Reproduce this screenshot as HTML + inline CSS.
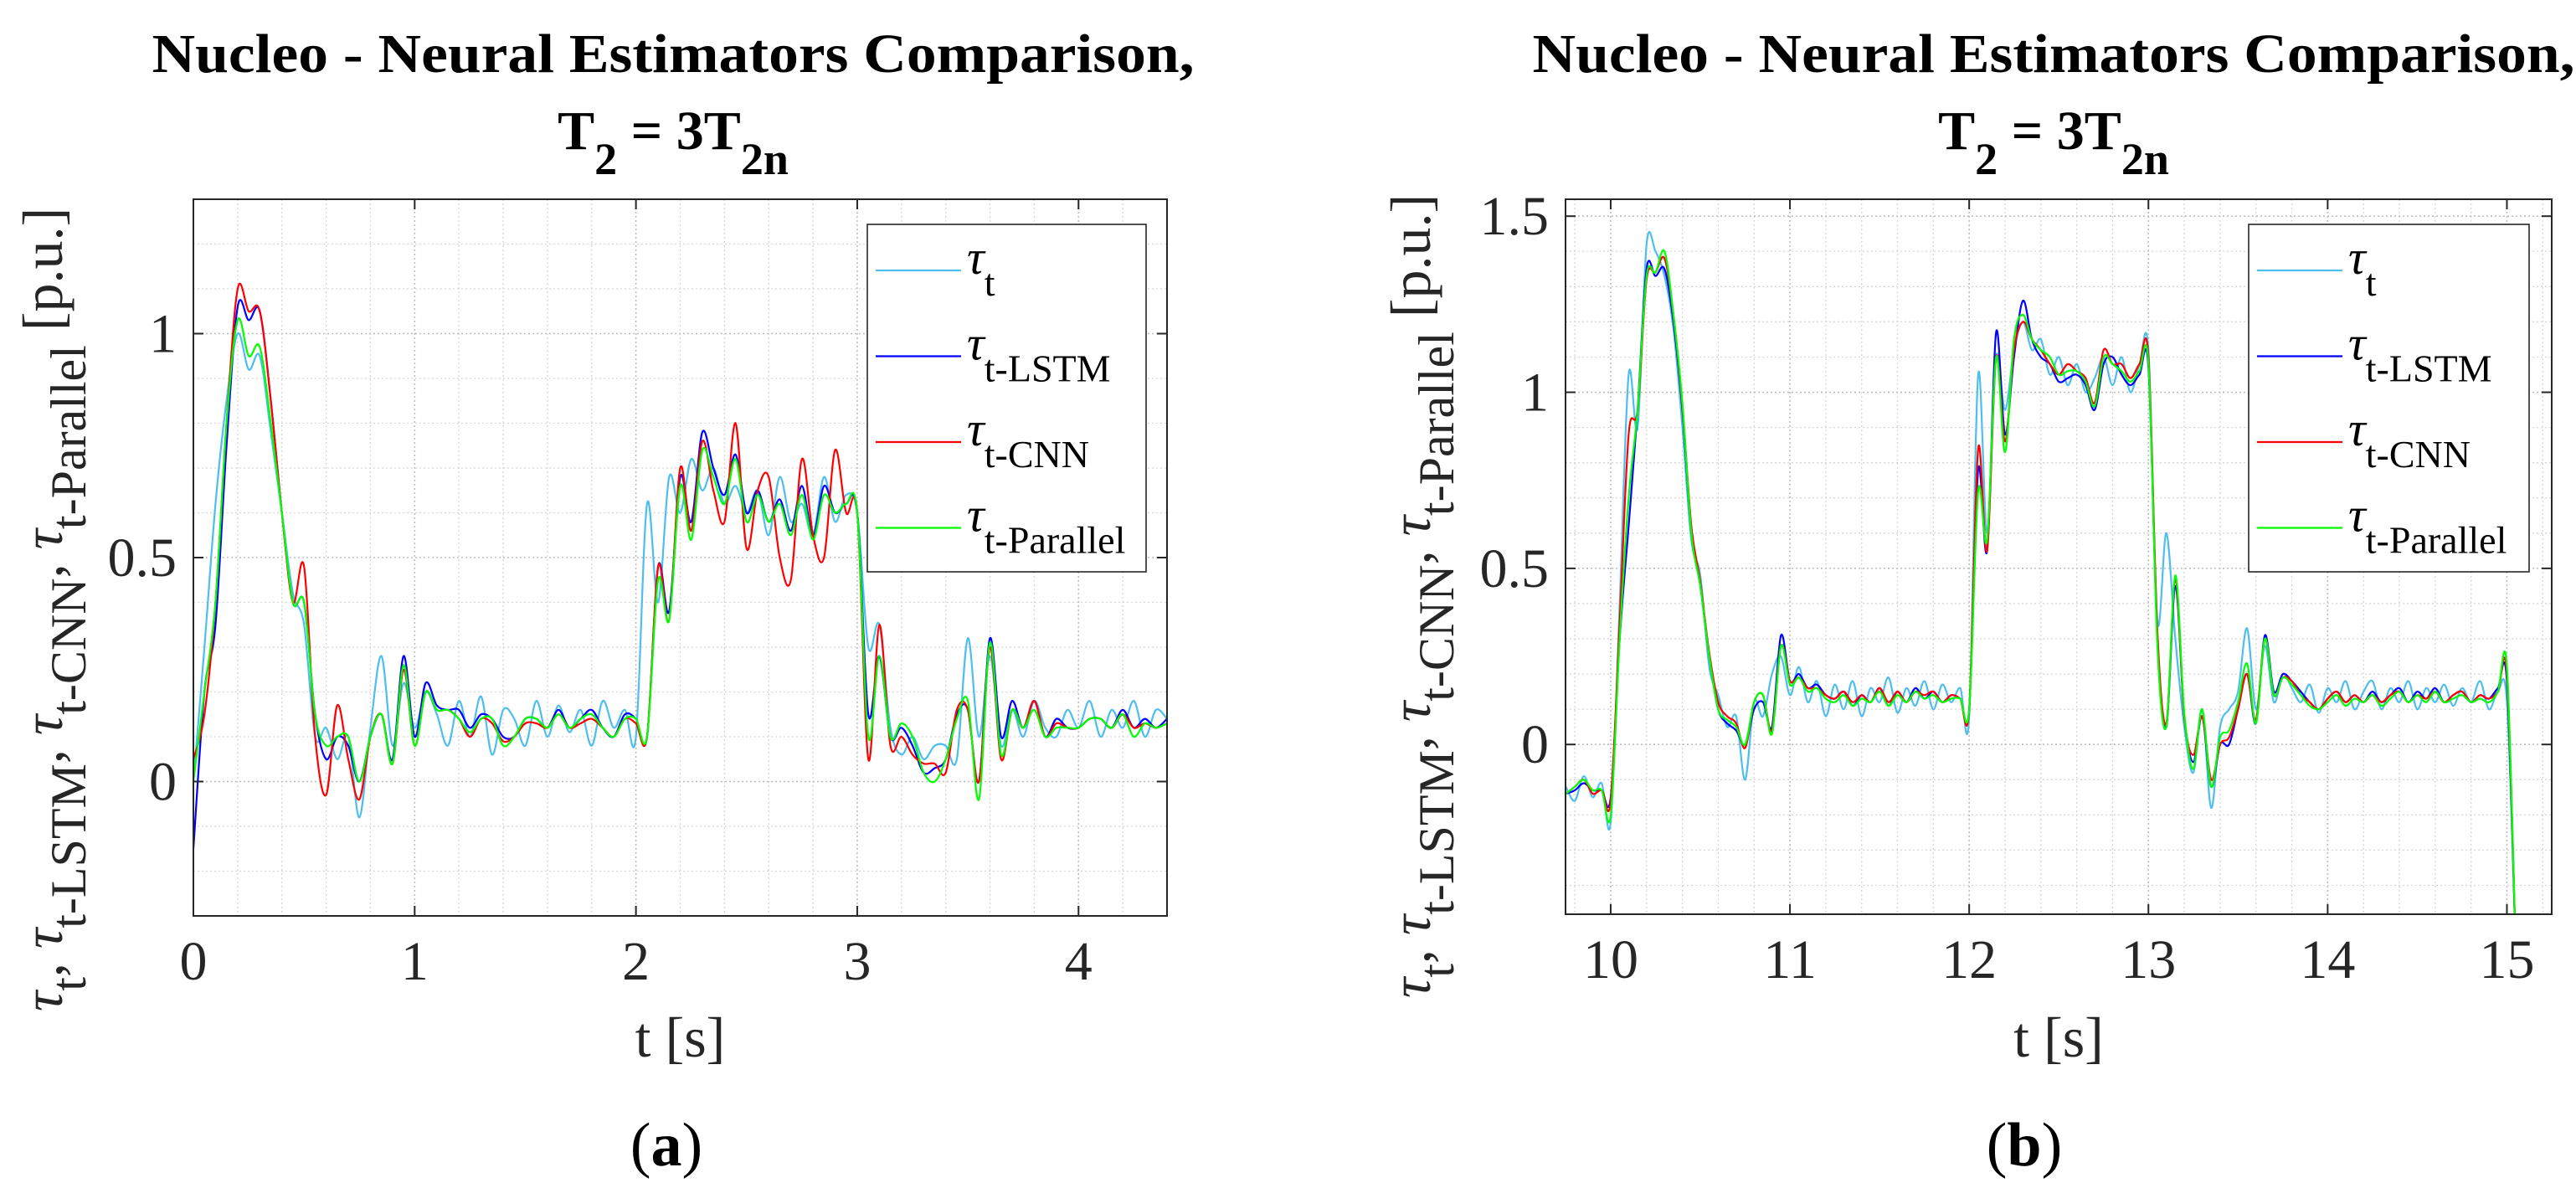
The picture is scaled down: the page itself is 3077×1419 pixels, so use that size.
<!DOCTYPE html>
<html><head><meta charset="utf-8"><style>
html,body{margin:0;padding:0;background:#fff;}
svg{display:block;font-family:"Liberation Serif",serif;}
</style></head><body>
<svg id="root" width="3077" height="1419" viewBox="0 0 3077 1419" xmlns="http://www.w3.org/2000/svg"></svg>
<script>
// ---------- Panel (a) data: t = 0 .. 4.4 step 0.05 ----------
const tStartA = 0, tStepA = 0.05;
const measA = [0.0,0.3,0.62,0.85,1.0,0.92,0.95,0.78,0.6,0.42,
0.35,0.1,0.12,0.05,0.1,-0.08,0.12,0.28,0.08,0.22,
0.12,0.2,0.15,0.08,0.18,0.1,0.19,0.06,0.16,0.14,
0.08,0.18,0.1,0.17,0.11,0.16,0.08,0.18,0.12,0.16,
0.1,0.62,0.4,0.68,0.6,0.72,0.65,0.7,0.62,0.66,
0.6,0.65,0.55,0.68,0.58,0.62,0.55,0.68,0.58,0.64,
0.6,0.3,0.35,0.12,0.06,0.1,0.05,0.08,0.08,0.05,
0.32,0.1,0.28,0.08,0.16,0.1,0.18,0.12,0.1,0.16,
0.12,0.18,0.1,0.16,0.12,0.18,0.1,0.16,0.14];
const lstmA = [-0.15,0.2,0.35,0.75,1.06,1.03,1.05,0.85,0.6,0.4,
0.4,0.15,0.05,0.1,0.08,0.0,0.1,0.15,0.05,0.28,
0.1,0.22,0.17,0.16,0.16,0.12,0.15,0.14,0.1,0.1,
0.14,0.14,0.12,0.16,0.12,0.14,0.16,0.12,0.1,0.15,
0.14,0.1,0.48,0.38,0.68,0.58,0.78,0.7,0.64,0.73,
0.6,0.65,0.58,0.63,0.56,0.66,0.55,0.66,0.6,0.62,
0.6,0.15,0.28,0.1,0.12,0.08,0.02,0.03,0.05,0.15,
0.16,0.0,0.32,0.1,0.18,0.12,0.18,0.1,0.14,0.12,
0.12,0.14,0.14,0.12,0.16,0.12,0.14,0.12,0.14];
const cnnA = [0.05,0.15,0.4,0.8,1.1,1.05,1.05,0.85,0.6,0.4,
0.48,0.1,-0.03,0.17,0.05,-0.04,0.1,0.15,0.04,0.25,
0.08,0.2,0.16,0.16,0.14,0.1,0.14,0.13,0.09,0.1,
0.13,0.13,0.12,0.15,0.12,0.13,0.14,0.12,0.1,0.14,
0.13,0.1,0.48,0.36,0.7,0.56,0.76,0.65,0.58,0.8,
0.52,0.65,0.68,0.5,0.45,0.72,0.55,0.5,0.74,0.6,
0.6,0.05,0.35,0.08,0.1,0.06,0.04,0.04,0.02,0.16,
0.16,0.0,0.3,0.05,0.16,0.12,0.18,0.1,0.13,0.12,
0.12,0.14,0.14,0.12,0.15,0.12,0.13,0.12,0.13];
const parA = [0.0,0.2,0.4,0.8,1.03,0.95,0.97,0.8,0.6,0.4,
0.4,0.15,0.08,0.1,0.1,0.0,0.1,0.15,0.04,0.26,
0.08,0.2,0.16,0.16,0.14,0.11,0.14,0.14,0.08,0.1,
0.14,0.14,0.12,0.15,0.12,0.14,0.15,0.12,0.1,0.14,
0.14,0.1,0.45,0.36,0.66,0.54,0.74,0.68,0.62,0.72,
0.58,0.64,0.58,0.62,0.55,0.64,0.54,0.64,0.6,0.62,
0.6,0.1,0.28,0.1,0.13,0.1,0.02,0.0,0.05,0.14,
0.18,-0.04,0.31,0.06,0.16,0.12,0.16,0.1,0.12,0.12,
0.12,0.14,0.14,0.12,0.15,0.1,0.13,0.12,0.13];
const xTicksA = [0,1,2,3,4];
const yTicksA = [0,0.5,1];
const yTickLabelsA = ["0","0.5","1"];

// ---------- Panel (b) data: t = 9.75 .. 15.05 step 0.05 ----------
const tStartB = 9.75, tStepB = 0.05;
const lstmB = [-0.14,-0.13,-0.11,-0.13,-0.13,-0.15,0.3,0.62,0.95,1.35,
1.33,1.35,1.2,0.95,0.6,0.45,0.25,0.1,0.06,0.04,
0.0,0.1,0.12,0.05,0.31,0.18,0.2,0.16,0.17,0.14,
0.13,0.15,0.11,0.14,0.12,0.16,0.11,0.15,0.12,0.16,
0.13,0.15,0.12,0.14,0.13,0.1,0.78,0.55,1.17,0.88,
1.1,1.26,1.15,1.1,1.08,1.03,1.04,1.05,1.02,0.95,
1.08,1.1,1.05,1.02,1.05,1.07,0.3,0.05,0.45,0.08,
-0.05,0.08,-0.12,0.0,0.0,0.1,0.2,0.06,0.31,0.15,
0.2,0.18,0.15,0.12,0.1,0.13,0.15,0.12,0.14,0.12,
0.15,0.12,0.14,0.16,0.12,0.15,0.13,0.16,0.12,0.14,
0.15,0.12,0.14,0.13,0.16,0.18,-0.6];
const cnnB = [-0.14,-0.12,-0.1,-0.14,-0.13,-0.16,0.35,0.88,0.95,1.32,
1.34,1.38,1.22,0.96,0.62,0.46,0.26,0.12,0.08,0.06,
-0.01,0.12,0.14,0.04,0.28,0.18,0.19,0.16,0.16,0.14,
0.13,0.15,0.12,0.14,0.12,0.16,0.12,0.15,0.12,0.15,
0.14,0.15,0.12,0.14,0.13,0.1,0.84,0.55,1.1,0.86,
1.12,1.2,1.15,1.12,1.08,1.05,1.08,1.06,1.04,0.97,
1.12,1.08,1.08,1.04,1.08,1.1,0.32,0.06,0.47,0.08,
-0.03,0.08,-0.1,0.0,0.02,0.1,0.2,0.07,0.3,0.14,
0.19,0.18,0.14,0.12,0.1,0.13,0.15,0.12,0.14,0.12,
0.14,0.12,0.14,0.15,0.12,0.14,0.13,0.15,0.12,0.14,
0.15,0.12,0.14,0.13,0.15,0.2,-0.6];
const parB = [-0.14,-0.12,-0.1,-0.13,-0.13,-0.2,0.3,0.7,0.95,1.33,
1.34,1.4,1.22,0.97,0.6,0.45,0.25,0.1,0.07,0.05,
0.0,0.12,0.14,0.03,0.28,0.17,0.19,0.15,0.16,0.13,
0.12,0.14,0.11,0.13,0.12,0.15,0.11,0.14,0.12,0.15,
0.13,0.14,0.12,0.13,0.13,0.1,0.72,0.58,1.1,0.83,
1.15,1.22,1.15,1.12,1.1,1.05,1.06,1.06,1.03,0.96,
1.1,1.08,1.06,1.03,1.06,1.08,0.28,0.05,0.48,0.09,
-0.07,0.1,-0.12,0.02,0.04,0.12,0.23,0.06,0.3,0.14,
0.19,0.17,0.14,0.11,0.1,0.12,0.14,0.11,0.13,0.12,
0.14,0.11,0.13,0.15,0.12,0.14,0.12,0.15,0.12,0.13,
0.14,0.12,0.13,0.12,0.15,0.22,-0.6];
const measB = [-0.12,-0.16,-0.09,-0.15,-0.11,-0.22,0.4,1.05,0.9,1.42,
1.4,1.33,1.18,0.9,0.58,0.48,0.22,0.14,0.05,0.08,
-0.1,0.12,0.08,0.2,0.25,0.14,0.22,0.12,0.18,0.08,
0.17,0.1,0.18,0.08,0.16,0.12,0.19,0.09,0.16,0.11,
0.18,0.1,0.17,0.12,0.16,0.08,1.05,0.6,1.1,0.95,
1.12,1.2,1.12,1.15,1.05,1.1,1.02,1.08,1.0,1.04,
1.1,1.02,1.1,1.0,1.08,1.12,0.35,0.6,0.3,0.05,
-0.08,0.1,-0.18,0.05,0.1,0.15,0.33,0.1,0.28,0.12,
0.2,0.16,0.12,0.17,0.09,0.16,0.12,0.18,0.1,0.15,
0.18,0.1,0.16,0.12,0.18,0.1,0.16,0.12,0.17,0.11,
0.16,0.12,0.18,0.1,0.15,0.12,-0.6];
const xTicksB = [10,11,12,13,14,15];
const yTicksB = [0,0.5,1,1.5];
const yTickLabelsB = ["0","0.5","1","1.5"];

const NS = "http://www.w3.org/2000/svg";
const root = document.getElementById("root");
function mk(tag, attrs, parent){ const e=document.createElementNS(NS,tag); for(const k in attrs) e.setAttribute(k,attrs[k]); (parent||root).appendChild(e); return e; }

function smoothPath(pts){
  let d="M"+pts[0][0].toFixed(1)+","+pts[0][1].toFixed(1);
  for(let i=0;i<pts.length-1;i++){
    const p0=pts[Math.max(0,i-1)], p1=pts[i], p2=pts[i+1], p3=pts[Math.min(pts.length-1,i+2)];
    const c1x=p1[0]+(p2[0]-p0[0])/6, c1y=p1[1]+(p2[1]-p0[1])/6;
    const c2x=p2[0]-(p3[0]-p1[0])/6, c2y=p2[1]-(p3[1]-p1[1])/6;
    d+="C"+c1x.toFixed(1)+","+c1y.toFixed(1)+" "+c2x.toFixed(1)+","+c2y.toFixed(1)+" "+p2[0].toFixed(1)+","+p2[1].toFixed(1);
  }
  return d;
}

function panel(cfg){
  const g = mk("g",{});
  
  
  const X = v => cfg.L + (v - cfg.xmin) / (cfg.xmax - cfg.xmin) * (cfg.R - cfg.L);
  const Y = v => cfg.B - (v - cfg.ymin) / (cfg.ymax - cfg.ymin) * (cfg.B - cfg.T);
  const bg = mk("rect",{x:cfg.L,y:cfg.T,width:cfg.R-cfg.L,height:cfg.B-cfg.T,fill:"#fff"},g);
   
  const grid = mk("g",{},g);
   
  for(let v=Math.ceil(cfg.xmin/0.2)*0.2; v<=cfg.xmax+1e-9; v+=0.2){
    const major = Math.abs(v-Math.round(v))<1e-6;
    mk("line",{x1:X(v),x2:X(v),y1:cfg.T,y2:cfg.B,stroke:major?"#bdbdbd":"#d6d6d6","stroke-width":major?1.6:1.3,"stroke-dasharray":"2,3"},grid);
  }
  for(let v=Math.ceil(cfg.ymin/0.1)*0.1; v<=cfg.ymax+1e-9; v+=0.1){
    const major = Math.abs(v*2-Math.round(v*2))<1e-6;
    mk("line",{x1:cfg.L,x2:cfg.R,y1:Y(v),y2:Y(v),stroke:major?"#bdbdbd":"#d6d6d6","stroke-width":major?1.6:1.3,"stroke-dasharray":"2,3"},grid);
  }
  const cp = mk("clipPath",{id:"clip-"+cfg.id},g);
  mk("rect",{x:cfg.L,y:cfg.T,width:cfg.R-cfg.L,height:cfg.B-cfg.T},cp);
  const series = mk("g",{"clip-path":"url(#clip-"+cfg.id+")"},g);
  cfg.series.forEach(s=>{
    const pts = s.data.map((v,i)=>[X(cfg.t0+i*cfg.dt), Y(v)]);
    const p = mk("path",{d:smoothPath(pts),fill:"none",stroke:s.color,"stroke-width":2.2,"stroke-linejoin":"round"},series);
    
    
  });
  const box = mk("rect",{x:cfg.L,y:cfg.T,width:cfg.R-cfg.L,height:cfg.B-cfg.T,fill:"none",stroke:"#262626","stroke-width":2},g);
   
  cfg.xTicks.forEach(v=>{
    mk("line",{x1:X(v),x2:X(v),y1:cfg.B,y2:cfg.B-12,stroke:"#262626","stroke-width":2},g);
    mk("line",{x1:X(v),x2:X(v),y1:cfg.T,y2:cfg.T+12,stroke:"#262626","stroke-width":2},g);
    const t = mk("text",{x:X(v),y:cfg.B+76,"text-anchor":"middle","font-size":66,fill:"#262626"},g);
    t.textContent = String(v);
     
  });
  cfg.yTicks.forEach((v,i)=>{
    mk("line",{x1:cfg.L,x2:cfg.L+12,y1:Y(v),y2:Y(v),stroke:"#262626","stroke-width":2},g);
    mk("line",{x1:cfg.R,x2:cfg.R-12,y1:Y(v),y2:Y(v),stroke:"#262626","stroke-width":2},g);
    const t = mk("text",{x:cfg.L-20,y:Y(v)+22,"text-anchor":"end","font-size":66,fill:"#262626"},g);
    t.textContent = cfg.yLabels[i];
     
  });
  const lg = mk("g",{},g);
   
  mk("rect",{x:cfg.leg.x,y:268,width:cfg.leg.w,height:415,fill:"#fff",stroke:"#262626","stroke-width":1.6},lg);
  const subs=["t","t-LSTM","t-CNN","t-Parallel"];
  cfg.series.forEach((s,i)=>{
    const yy = 323 + i*102.5;
    const ent = mk("g",{},lg);
     
    mk("line",{x1:cfg.leg.x+10,x2:cfg.leg.x+112,y1:yy,y2:yy,stroke:s.color,"stroke-width":2.2},ent);
    const tx = mk("text",{x:cfg.leg.x+119,y:yy+4,"font-size":58,fill:"#000"},ent);
    const a = mk("tspan",{"font-style":"italic"},tx); a.textContent="τ";
    const b = mk("tspan",{dy:26,"font-size":46},tx); b.textContent=subs[i];
  });
  const xl = mk("text",{x:(cfg.L+cfg.R)/2,y:1262,"text-anchor":"middle","font-size":68,fill:"#262626"},g);
  xl.textContent="t [s]";
   
  const yl = mk("text",{transform:"translate("+cfg.ylx+","+cfg.yly+") rotate(-90)","text-anchor":"middle","font-size":68,fill:"#262626"},g);
   
  const parts=[["τ","t",", "],["τ","t-LSTM",", "],["τ","t-CNN",", "],["τ","t-Parallel"," [p.u.]"]];
  parts.forEach(p=>{
    const a=mk("tspan",{"font-style":"italic"},yl); a.textContent=p[0];
    const b=mk("tspan",{dy:28,"font-size":60},yl); b.textContent=p[1];
    const c=mk("tspan",{dy:-28},yl); c.textContent=p[2];
  });
  const t1 = mk("text",{x:cfg.tx,y:86,"text-anchor":"middle","font-size":66,"font-weight":"bold",fill:"#000",textLength:1245,lengthAdjust:"spacingAndGlyphs"},g);
  t1.textContent="Nucleo - Neural Estimators Comparison,";
   
  const t2 = mk("text",{x:cfg.tx,y:178,"text-anchor":"middle","font-size":66,"font-weight":"bold",fill:"#000"},g);
   
  const s1=mk("tspan",{},t2); s1.textContent="T";
  const s2=mk("tspan",{dy:30,"font-size":54},t2); s2.textContent="2";
  const s3=mk("tspan",{dy:-30},t2); s3.textContent=" = 3T";
  const s4=mk("tspan",{dy:30,"font-size":54},t2); s4.textContent="2n";
  const cap = mk("text",{x:cfg.capx,y:1392,"text-anchor":"middle","font-size":74,fill:"#000"},g);
   
  const c1=mk("tspan",{},cap); c1.textContent="(";
  const c2=mk("tspan",{"font-weight":"bold"},cap); c2.textContent=cfg.cap;
  const c3=mk("tspan",{},cap); c3.textContent=")";
}

panel({id:"panel-a",L:231,R:1394,T:238,B:1094,xmin:0,xmax:4.4,ymin:-0.3,ymax:1.3,
  t0:tStartA,dt:tStepA,xTicks:xTicksA,yTicks:yTicksA,yLabels:yTickLabelsA,
  leg:{x:1036,w:333},ylx:74,yly:728,tx:804,capx:796,cap:"a",
  series:[{name:"tau-t-line",color:"#4DBEEE",data:measA},{name:"tau-lstm-line",color:"#0000FF",data:lstmA},
          {name:"tau-cnn-line",color:"#FF0000",data:cnnA},{name:"tau-parallel-line",color:"#00FF00",data:parA}]});
panel({id:"panel-b",L:1870,R:3048,T:238,B:1092,xmin:9.748,xmax:15.25,ymin:-0.482,ymax:1.548,
  t0:tStartB,dt:tStepB,xTicks:xTicksB,yTicks:yTicksB,yLabels:yTickLabelsB,
  leg:{x:2686,w:335},ylx:1708,yly:712,tx:2453,capx:2418,cap:"b",
  series:[{name:"tau-t-line",color:"#4DBEEE",data:measB},{name:"tau-lstm-line",color:"#0000FF",data:lstmB},
          {name:"tau-cnn-line",color:"#FF0000",data:cnnB},{name:"tau-parallel-line",color:"#00FF00",data:parB}]});
</script>
</body></html>
